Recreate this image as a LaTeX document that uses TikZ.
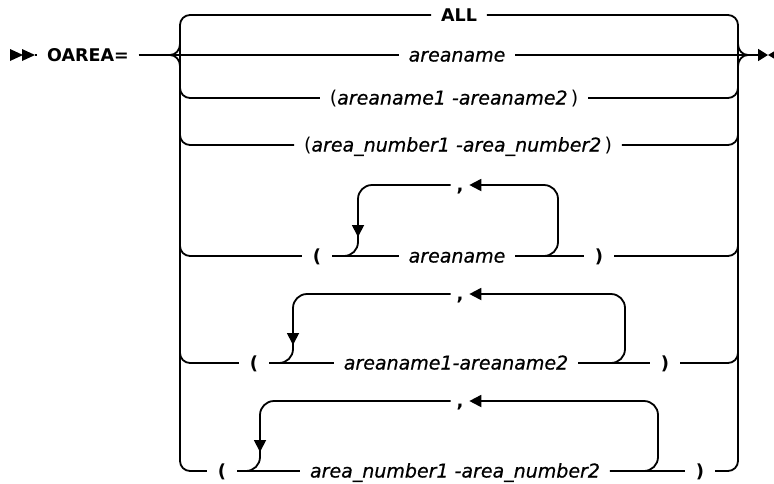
\documentclass[tikz,border=0pt]{standalone}
\usepackage{fontspec}
\setmainfont{DejaVu Sans}[ItalicFeatures={FakeBold=0.6}]
\usetikzlibrary{arrows.meta}
\begin{document}
\begin{tikzpicture}[x=1pt,y=-1pt,
  line width=1.8pt,
  rail/.style={line width=1.8pt, rounded corners=10pt},
  loopline/.style={line width=1.8pt, rounded corners=14pt},
  txt/.style={font=\fontsize{19}{22}\selectfont, inner ysep=0pt, inner xsep=9pt,
              text height=13pt, text depth=0pt, anchor=center},
  kw/.style={txt, font=\fontsize{17.5}{22}\selectfont\bfseries},
  var/.style={txt, font=\fontsize{19}{22}\selectfont\itshape},
  punct/.style={txt, font=\fontsize{18}{22}\selectfont\bfseries, inner xsep=10pt},
  commanode/.style={txt, font=\fontsize{18}{22}\selectfont\bfseries, inner xsep=5pt},
  looptip/.style={-{Triangle[length=12pt,width=12pt]}},
]
\useasboundingbox (0,0) rectangle (774,483);

% key coordinates
\coordinate (L) at (180,0);
\coordinate (R) at (738,0);
\coordinate (inL) at (170,55);
\coordinate (outR) at (748,55);
\coordinate (y1) at (0,15);
\coordinate (y7) at (0,471);
\coordinate (s2) at (23,55);
\coordinate (s3) at (35,55);
\coordinate (e1) at (768,55);

% text nodes
\node[kw]  (oarea) at (88,55) {OAREA=};
\node[kw]  (all) at (459,15) {ALL};
\node[var] (an) at (457,55) {areaname};
\node[txt] (rng) at (454,98) {(\textit{areaname1 -areaname2}\,)};
\node[txt] (num) at (458,145) {(\textit{area\_number1 -area\_number2}\,)};

\node[punct] (lp5) at (317,256) {(};
\node[var]   (v5)  at (457,256) {areaname};
\node[punct] (rp5) at (599,256) {)};
\node[commanode] (cm5) at (460,185) {,};

\node[punct] (lp6) at (254,363) {(};
\node[var]   (v6)  at (456,363) {areaname1-areaname2};
\node[punct] (rp6) at (665,363) {)};
\node[commanode] (cm6) at (460,294) {,};

\node[punct] (lp7) at (222,471) {(};
\node[var]   (v7)  at (455,471) {area\_number1 -area\_number2};
\node[punct] (rp7) at (700,471) {)};
\node[commanode] (cm7) at (460,401) {,};

% start marker
\fill (10,49) -- (s2) -- (10,61) -- cycle;
\fill (22,49) -- (s3) -- (22,61) -- cycle;
\draw (s3) -- (oarea.west);
\draw (oarea.east) -- (inL);

% left brace
\draw[rail] (all.west) -- (L |- y1) -- (L |- y7) -- (lp7.west);
\draw (180,44) to[out=-90,in=0] (inL);
\draw (180,66) to[out=90,in=0] (inL);
\draw[rail] (180,80) -- (180,98) -- (rng.west);
\draw[rail] (180,127) -- (180,145) -- (num.west);
\draw[rail] (180,238) -- (180,256) -- (lp5.west);
\draw[rail] (180,345) -- (180,363) -- (lp6.west);

% right brace
\draw[rail] (all.east) -- (R |- y1) -- (R |- y7) -- (rp7.east);
\draw (738,44) to[out=-90,in=180] (outR);
\draw (738,66) to[out=90,in=180] (outR);
\draw[rail] (rng.east) -- (738,98) -- (738,80);
\draw[rail] (num.east) -- (738,145) -- (738,127);
\draw[rail] (rp5.east) -- (738,256) -- (738,238);
\draw[rail] (rp6.east) -- (738,363) -- (738,345);

% main row
\draw (inL) -- (an.west);
\draw (an.east) -- (outR);

% end marker
\draw[-{Triangle[length=10pt,width=12pt]}] (outR) -- (e1);
\fill (e1) -- (778,49) -- (778,61) -- cycle;

% row 5 repeat
\draw (lp5.east) -- (v5.west);
\draw (v5.east) -- (rp5.west);
\draw[loopline, looptip] (v5.east) -- (558,256) -- (558,185) -- (cm5.east);
\draw[loopline] (cm5.west) -- (358,185) -- (358,256) -- (lp5.east);
\draw[looptip] (358,222) -- (358,237);

% row 6 repeat
\draw (lp6.east) -- (v6.west);
\draw (v6.east) -- (rp6.west);
\draw[loopline, looptip] (v6.east) -- (625,363) -- (625,294) -- (cm6.east);
\draw[loopline] (cm6.west) -- (293,294) -- (293,363) -- (lp6.east);
\draw[looptip] (293,330) -- (293,345);

% row 7 repeat
\draw (lp7.east) -- (v7.west);
\draw (v7.east) -- (rp7.west);
\draw[loopline, looptip] (v7.east) -- (658,471) -- (658,401) -- (cm7.east);
\draw[loopline] (cm7.west) -- (260,401) -- (260,471) -- (lp7.east);
\draw[looptip] (260,437) -- (260,452);
\end{tikzpicture}
\end{document}
